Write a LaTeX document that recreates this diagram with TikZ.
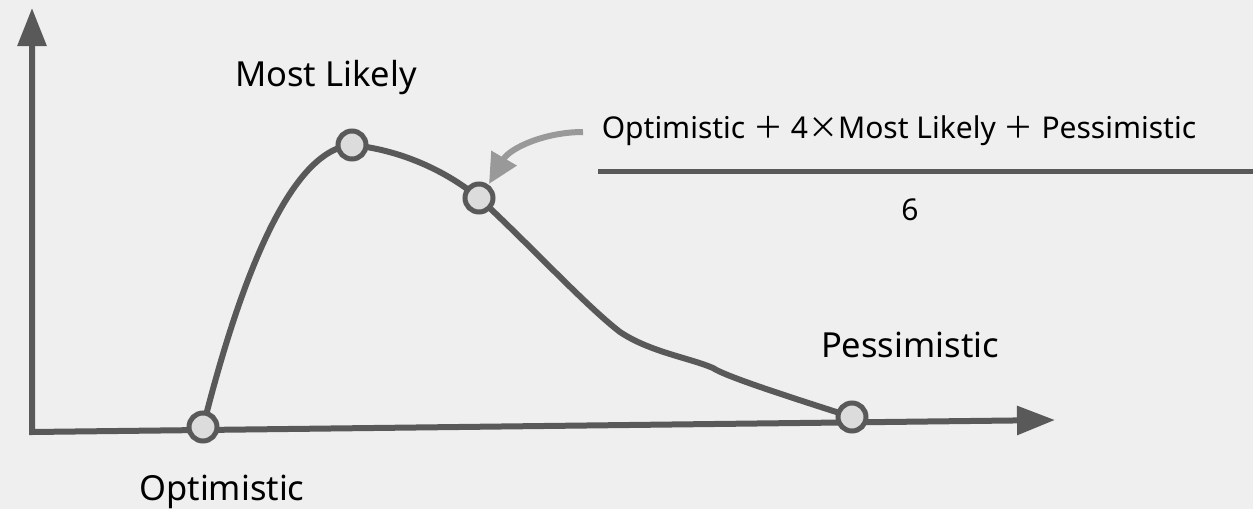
\documentclass[tikz,border=0pt]{standalone}
\usepackage{fontspec}
\setmainfont{Noto Sans}
\newfontfamily\cjkfont{Noto Sans CJK SC}
\usetikzlibrary{arrows.meta}
\definecolor{bg}{HTML}{EFEFEF}
\definecolor{ln}{HTML}{595959}
\definecolor{ptfill}{HTML}{DCDCDC}
\definecolor{pointer}{HTML}{999999}
\begin{document}
\begin{tikzpicture}[x=1pt,y=-1pt,
  axis/.style={draw=ln,line width=6pt,line join=miter},
  curveline/.style={draw=ln,line width=6pt},
  pt/.style={circle,draw=ln,line width=5pt,fill=ptfill,minimum size=28pt,inner sep=0pt},
  lbl/.style={font=\fontsize{34.5}{40}\selectfont,text=black,inner sep=0pt},
  frm/.style={font=\fontsize{30}{35}\selectfont,text=black,inner sep=0pt},
  pointerline/.style={draw=pointer,line width=6pt}]
\fill[bg] (0,0) rectangle (1253,509);
\useasboundingbox (0,0) rectangle (1253,509);
\coordinate (origin) at (32,432);
\coordinate (ytip) at (32,8);
\coordinate (xtip) at (1055,420);
\coordinate (O) at (203,427);
\coordinate (M) at (352,145);
\coordinate (E) at (479,198);
\coordinate (P) at (852,417);
\coordinate (arrstart) at (583,132);
\coordinate (arrtip) at (489,184);
\coordinate (barL) at (598,171);
\coordinate (barR) at (1253,171);
\draw[axis,{Triangle[length=38pt,width=28pt]}-{Triangle[length=38pt,width=28pt]}] (ytip) -- (origin) -- (xtip);
\draw[curveline] (O) .. controls (240,280) and (290,150) .. (M)
  .. controls (400,150) and (445,170) .. (E)
  .. controls (530,245) and (585,305) .. (620,332)
  .. controls (650,352) and (690,358) .. (713,368)
  .. controls (725,376) and (780,394) .. (P);
\node[pt] (nO) at (O) {};
\node[pt] (nM) at (M) {};
\node[pt] (nE) at (E) {};
\node[pt] (nP) at (P) {};
\draw[pointerline,-{Triangle[length=30pt,width=28pt]}] (arrstart) .. controls (545,132) and (510,148) .. (arrtip);
\draw[draw=ln,line width=5pt] (barL) -- (barR);
\node[lbl] (tM) at (326,78) {Most Likely};
\node[lbl] (tO) at (222,492) {Optimistic};
\node[lbl] (tP) at (910,345) {Pessimistic};
\node[frm] (num) at (899,131) {Optimistic {\cjkfont ＋} 4{\cjkfont ×}Most Likely {\cjkfont ＋} Pessimistic};
\node[frm] (den) at (910,210) {6};
\end{tikzpicture}
\end{document}
